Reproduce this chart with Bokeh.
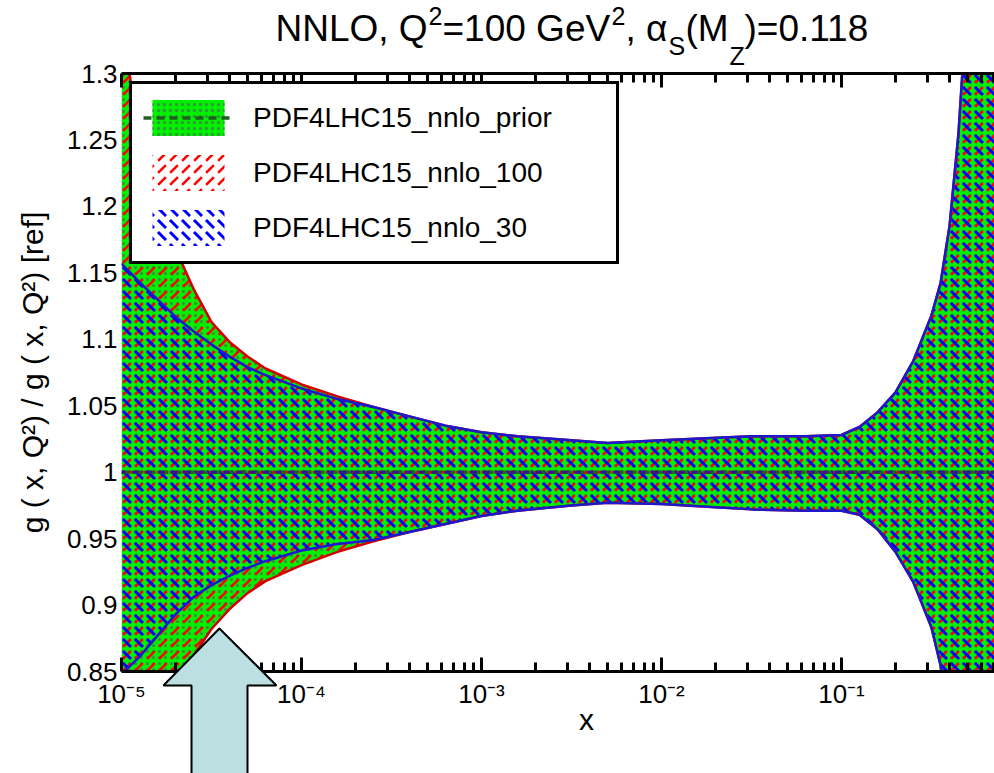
from bokeh.plotting import figure
from bokeh.models import (Range1d, LogAxis, FixedTicker, CustomJSTickFormatter, Legend,
                          LegendItem, ColumnDataSource)
from bokeh.core.properties import value
from bokeh.embed import file_html
from bokeh.resources import INLINE

# ---------------- data ----------------
log10_x = [-5.0, -4.9, -4.8, -4.7, -4.6, -4.5, -4.4, -4.3, -4.2, -4.0, -3.8, -3.6,
           -3.4, -3.2, -3.0, -2.8, -2.5, -2.3, -2.0, -1.5, -1.2, -1.0, -0.9, -0.8,
           -0.7, -0.6, -0.5, -0.45, -0.4, -0.35, -0.3, -0.15]

prior_hi = [1.34, 1.25, 1.205, 1.168, 1.138, 1.113, 1.098, 1.087, 1.078, 1.066, 1.057, 1.049,
            1.042, 1.035, 1.030, 1.027, 1.024, 1.022, 1.024, 1.027, 1.027, 1.028, 1.034, 1.045,
            1.060, 1.084, 1.118, 1.142, 1.185, 1.255, 1.36, 1.60]
prior_lo = [0.72, 0.76, 0.80, 0.836, 0.862, 0.882, 0.897, 0.909, 0.918, 0.930, 0.940, 0.948,
            0.955, 0.961, 0.967, 0.971, 0.975, 0.977, 0.976, 0.972, 0.971, 0.971, 0.968, 0.957,
            0.940, 0.917, 0.883, 0.855, 0.80, 0.74, 0.68, 0.50]

nnlo100_hi = [1.34, 1.25, 1.205, 1.168, 1.138, 1.113, 1.098, 1.087, 1.078, 1.066, 1.057, 1.049,
              1.042, 1.035, 1.030, 1.027, 1.024, 1.022, 1.024, 1.027, 1.027, 1.028, 1.034, 1.045,
              1.060, 1.084, 1.118, 1.142, 1.185, 1.255, 1.36, 1.60]
nnlo100_lo = [0.72, 0.76, 0.80, 0.836, 0.862, 0.882, 0.897, 0.909, 0.918, 0.930, 0.940, 0.948,
              0.955, 0.961, 0.967, 0.971, 0.975, 0.977, 0.976, 0.972, 0.971, 0.971, 0.968, 0.957,
              0.940, 0.917, 0.883, 0.855, 0.80, 0.74, 0.68, 0.50]

nnlo30_hi = [1.157, 1.143, 1.130, 1.117, 1.106, 1.096, 1.087, 1.079, 1.073, 1.063, 1.055, 1.049,
             1.042, 1.035, 1.030, 1.027, 1.024, 1.022, 1.024, 1.027, 1.027, 1.028, 1.034, 1.045,
             1.060, 1.084, 1.118, 1.142, 1.185, 1.255, 1.36, 1.60]
nnlo30_lo = [0.848, 0.861, 0.877, 0.893, 0.906, 0.915, 0.922, 0.928, 0.933, 0.941, 0.946, 0.949,
             0.955, 0.961, 0.967, 0.971, 0.975, 0.977, 0.976, 0.972, 0.971, 0.971, 0.968, 0.957,
             0.940, 0.917, 0.883, 0.855, 0.80, 0.74, 0.68, 0.50]

ratio_central = [1.0] * len(log10_x)

x_tick_exponents = [-5, -4, -3, -2, -1]
minor_multipliers = [2, 3, 4, 5, 6, 7, 8, 9]
y_ticks = [0.85, 0.9, 0.95, 1.0, 1.05, 1.1, 1.15, 1.2, 1.25, 1.3]

series_labels = ["PDF4LHC15_nnlo_prior", "PDF4LHC15_nnlo_100", "PDF4LHC15_nnlo_30"]

# arrow annotation outline (log10 x, y) in data space
arrow_log10_x = [-4.456, -4.139, -4.30, -4.30, -4.611, -4.611, -4.767]
arrow_y = [0.8824, 0.8395, 0.8395, 0.70, 0.70, 0.8395, 0.8395]

# ---------------- figure ----------------
X_START, X_END = 1e-5, 0.708
Y_START, Y_END = 0.85, 1.3
x = [10 ** e for e in log10_x]
FONT = "Liberation Sans"

p = figure(width=994, height=773, x_axis_type="log",
           x_range=Range1d(X_START, X_END), y_range=Range1d(Y_START, Y_END),
           output_backend="svg", toolbar_location=None,
           min_border_left=121, min_border_right=0, min_border_top=73, min_border_bottom=102)
p.outline_line_color = None
p.xgrid.visible = False
p.ygrid.visible = False
p.background_fill_color = "white"
p.border_fill_color = "white"

major_x = [10.0 ** e for e in x_tick_exponents]
minor_x = sorted(set(m * 10.0 ** e for e in x_tick_exponents for m in minor_multipliers))
sup_code = """
const sup = {"-":"\u207b","0":"\u2070","1":"\u00b9","2":"\u00b2","3":"\u00b3","4":"\u2074",
             "5":"\u2075","6":"\u2076","7":"\u2077","8":"\u2078","9":"\u2079"};
const e = Math.round(Math.log10(tick));
return "10" + String(e).split("").map(c => sup[c]).join("");
"""


def style_x_axis(ax, labels=True):
    ax.ticker = FixedTicker(ticks=major_x, minor_ticks=minor_x)
    ax.formatter = CustomJSTickFormatter(code=sup_code)
    ax.axis_line_width = 3
    ax.axis_line_color = "black"
    ax.major_tick_in = 14
    ax.major_tick_out = 0
    ax.minor_tick_in = 9
    ax.minor_tick_out = 0
    ax.major_tick_line_width = 3
    ax.minor_tick_line_width = 3
    ax.major_label_text_font = FONT
    ax.major_label_text_font_size = "26px"
    ax.major_label_text_color = "black"
    ax.major_label_standoff = 7
    if not labels:
        ax.major_label_text_color = None
        ax.major_label_text_font_size = "1px"


style_x_axis(p.xaxis[0])
top_axis = LogAxis()
style_x_axis(top_axis, labels=False)
p.add_layout(top_axis, "above")

yax = p.yaxis[0]
yax.ticker = FixedTicker(ticks=y_ticks)
yax.formatter = CustomJSTickFormatter(code="return String(parseFloat(tick.toFixed(2)));")
yax.axis_line_color = None
yax.major_tick_line_color = None
yax.minor_tick_line_color = None
yax.major_tick_out = 0
yax.minor_tick_out = 0
yax.major_label_text_font = FONT
yax.major_label_text_font_size = "26px"
yax.major_label_text_color = "black"
yax.major_label_standoff = 4
yax.axis_label = "g ( x, Q\u00b2) / g ( x, Q\u00b2) [ref]"
yax.axis_label_text_font = FONT
yax.axis_label_text_font_size = "30px"
yax.axis_label_text_font_style = "normal"
yax.axis_label_text_color = "black"
yax.axis_label_standoff = 15

# bands
r_prior = p.varea(x=x, y1=prior_lo, y2=prior_hi, fill_color="#00f000",
                  hatch_pattern=".", hatch_color="#3a8a44", hatch_scale=6, hatch_weight=2)
r_100 = p.varea(x=x, y1=nnlo100_lo, y2=nnlo100_hi, fill_alpha=0,
                hatch_pattern=",", hatch_color="#ff0000", hatch_scale=12, hatch_weight=2.5)
r_30 = p.varea(x=x, y1=nnlo30_lo, y2=nnlo30_hi, fill_alpha=0,
               hatch_pattern="`", hatch_color="#0000ff", hatch_scale=12, hatch_weight=3)

# band edges
for arr in (nnlo100_hi, nnlo100_lo):
    p.line(x, arr, line_color="#d40000", line_width=2.5)
for arr in (nnlo30_hi, nnlo30_lo):
    p.line(x, arr, line_color="#1a1acc", line_width=2.5)

# central lines
c_prior = p.line(x, ratio_central, line_color="#1f5f1f", line_width=3.5, line_dash="8 5")
c_100 = p.line(x, ratio_central, line_color="#a01818", line_width=3, line_dash="8 5",
               line_dash_offset=4, line_alpha=0.85)
c_30 = p.line(x, ratio_central, line_color="#1818a8", line_width=3, line_dash="6 7",
              line_dash_offset=2, line_alpha=0.85)

legend = Legend(items=[
    LegendItem(label=series_labels[0], renderers=[r_prior, c_prior]),
    LegendItem(label=series_labels[1], renderers=[r_100]),
    LegendItem(label=series_labels[2], renderers=[r_30]),
], location="top_left")
legend.margin = 8
legend.padding = 11
legend.spacing = 10
legend.glyph_width = 90
legend.glyph_height = 45
legend.label_height = 45
legend.label_width = 352
legend.label_standoff = 20
legend.label_text_font = FONT
legend.label_text_font_size = "28px"
legend.label_text_color = "black"
legend.border_line_color = "black"
legend.border_line_alpha = 1.0
legend.border_line_width = 3
legend.background_fill_color = "white"
legend.background_fill_alpha = 1.0
p.add_layout(legend, "center")

# arrow (drawn unclipped, above everything)
p.patch([10 ** e for e in arrow_log10_x], arrow_y, fill_color="#bcdfe2",
        line_color="black", line_width=2, level="overlay")

# title pieces (super/subscripts) anchored at the top-left corner of the plot frame,
# offsets in screen pixels
title_src = ColumnDataSource(dict(
    x=[X_START] * 9, y=[Y_END] * 9,
    text=["NNLO, Q", "2", "=100 GeV", "2", ", \u03b1", "S", "(M", "Z", ")=0.118"],
    dx=[154, 307, 321, 490, 504, 547, 564, 608, 623],
    dy=[-45, -58, -45, -58, -45, -28, -45, -18, -45],
    size=["37px", "25px", "37px", "25px", "37px", "25px", "37px", "25px", "37px"],
))
p.text(x="x", y="y", text="text", x_offset="dx", y_offset="dy", text_font_size="size",
       source=title_src, text_font=value(FONT), text_color="black",
       text_baseline="alphabetic", text_align="left", level="overlay")

# x-axis title anchored at the bottom-left corner of the frame
p.text(x=[X_START], y=[Y_START], text=["x"], x_offset=465, y_offset=48,
       text_font=value(FONT), text_font_size="30px", text_color="black",
       text_baseline="alphabetic", text_align="center", level="overlay")

open("out.html", "w").write(file_html(p, INLINE))
